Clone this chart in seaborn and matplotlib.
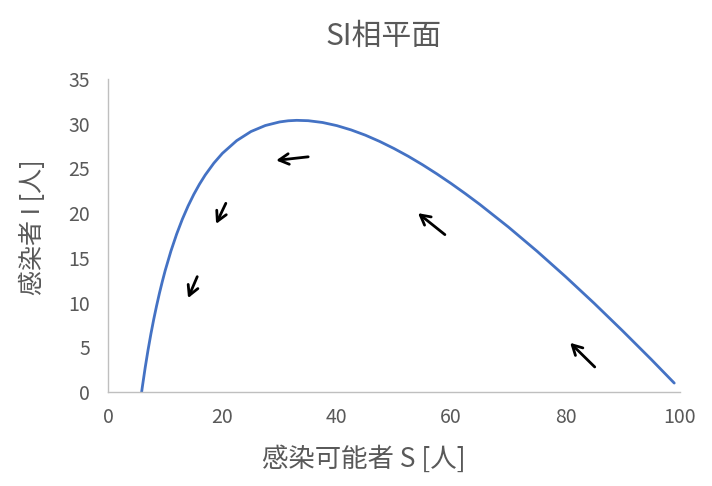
import matplotlib
matplotlib.use("Agg")
import matplotlib.pyplot as plt
import seaborn as sns
import pandas as pd

# Curve: S (susceptible) vs I (infected)
s_vals = [99, 95, 90, 85, 80, 75, 70, 65, 62.5, 60, 57.5, 55, 52.5, 50, 47.5, 45,
          42.5, 40, 37.5, 35, 33, 31.5, 30, 27.5, 25, 22.5, 20, 18.5, 17, 16, 15,
          14, 13, 12, 11, 10, 9.5, 9, 8.5, 8, 7.5, 7, 6.5, 6, 5.88]
i_vals = [1.0, 3.63, 6.82, 9.92, 12.9, 15.75, 18.45, 20.98, 22.17, 23.31, 24.39,
          25.41, 26.36, 27.23, 28.02, 28.72, 29.31, 29.79, 30.14, 30.34, 30.38,
          30.33, 30.2, 29.8, 29.13, 28.11, 26.69, 25.59, 24.27, 23.25, 22.1,
          20.8, 19.33, 17.66, 15.76, 13.59, 12.37, 11.07, 9.66, 8.15, 6.5, 4.7,
          2.73, 0.56, 0.0]

# Direction arrows (tail S, tail I, head S, head I)
arrow_tail_s = [35.0, 20.6, 15.6, 58.9, 85.1]
arrow_tail_i = [26.3, 21.1, 12.9, 17.6, 2.8]
arrow_head_s = [29.4, 18.9, 14.0, 54.2, 80.8]
arrow_head_i = [25.9, 18.8, 10.5, 20.0, 5.5]

x_ticks = [0, 20, 40, 60, 80, 100]
y_ticks = [0, 5, 10, 15, 20, 25, 30, 35]

title = "SI相平面"
x_label = "感染可能者 S [人]"
y_label = "感染者 I [人]"

sns.set_style("white")
plt.rcParams['font.family'] = ['Noto Sans CJK JP', 'DejaVu Sans']

fig = plt.figure(figsize=(7.12, 4.86), dpi=100)
ax = fig.add_axes([0.1517, 0.1934, 0.955 - 0.1517, 0.8374 - 0.1934])

df = pd.DataFrame({"S": s_vals, "I": i_vals})
sns.lineplot(data=df, x="S", y="I", sort=False, ax=ax, color="#4472C4",
             linewidth=2.0, solid_joinstyle="round")

for ts, ti, hs, hi in zip(arrow_tail_s, arrow_tail_i, arrow_head_s, arrow_head_i):
    ax.annotate("", xy=(hs, hi), xytext=(ts, ti),
                arrowprops=dict(arrowstyle="->,head_length=0.7,head_width=0.38",
                                color="black", lw=2.0, shrinkA=0, shrinkB=0))

ax.set_xlim(0, 100)
ax.set_ylim(0, 35)
ax.set_xticks(x_ticks)
ax.set_yticks(y_ticks)
ax.tick_params(axis="both", direction="in", length=5, width=1, color="#bfbfbf",
               labelcolor="#595959", labelsize=14)
ax.tick_params(axis="x", pad=11)
ax.tick_params(axis="y", pad=13)

for side in ["top", "right"]:
    ax.spines[side].set_visible(False)
for side in ["left", "bottom"]:
    ax.spines[side].set_color("#bfbfbf")
    ax.spines[side].set_linewidth(1.0)

ax.set_xlabel(x_label, fontsize=19, color="#595959", va="center")
ax.set_ylabel(y_label, fontsize=18, color="#595959", va="center")
ax.xaxis.set_label_coords(0.448, -0.215)
ax.yaxis.set_label_coords(-0.132, 0.526)
fig.text(0.539, 0.926, title, fontsize=21.5, color="#595959", ha="center", va="center")

fig.savefig("out.png", dpi=100)
